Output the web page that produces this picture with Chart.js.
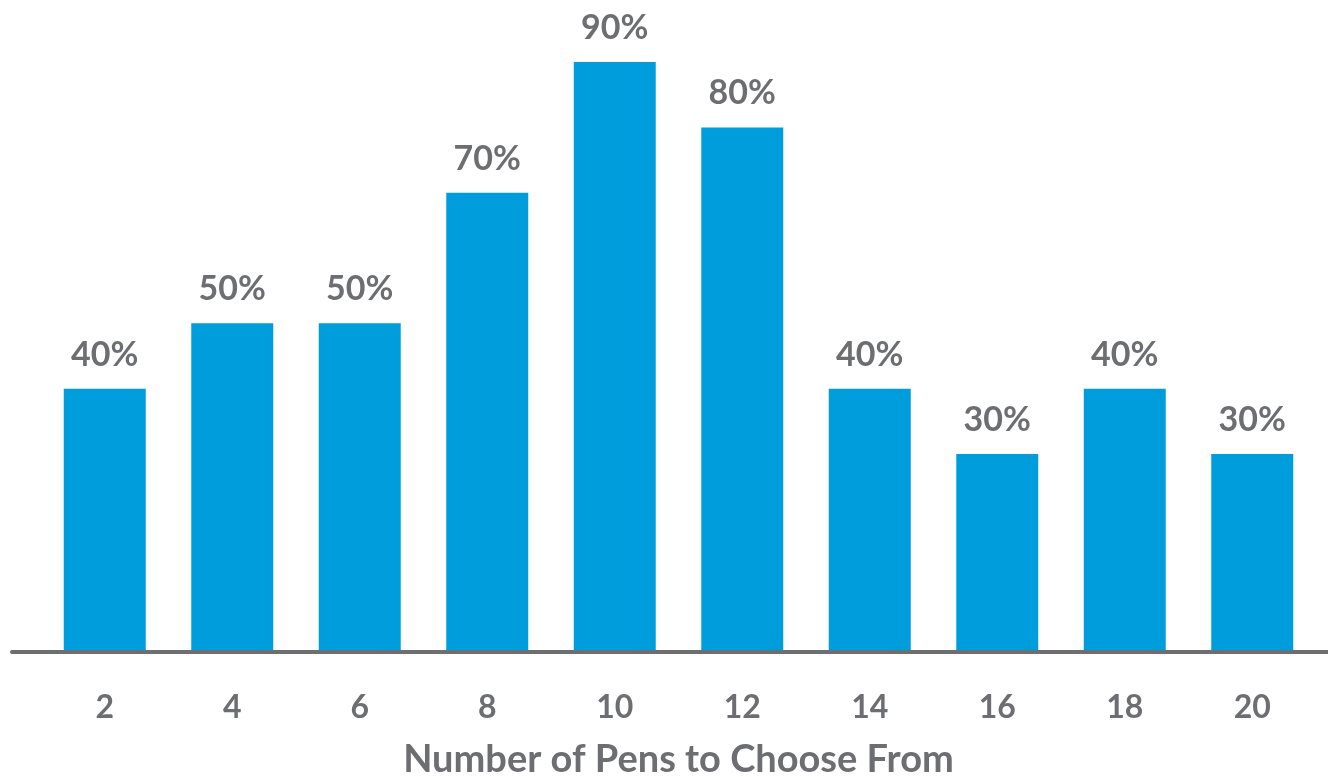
<!DOCTYPE html>
<html>
<head>
<meta charset="utf-8">
<script src="https://cdn.jsdelivr.net/npm/chart.js@4.4.0/dist/chart.umd.min.js"></script>
<style>
  html, body { margin: 0; padding: 0; background: #fff; }
  #wrap { width: 1328px; height: 777px; }
</style>
</head>
<body>
<div id="wrap"><canvas id="chart"></canvas></div>
<script>
// data
const penCounts = ['2', '4', '6', '8', '10', '12', '14', '16', '18', '20'];
const sharePct = [40, 50, 50, 70, 90, 80, 40, 30, 40, 30];
const axisTitle = 'Number of Pens to Choose From';

const BLUE = '#009ddc';
const GREY = '#6d6e71';
const FONT = 'Lato, "Open Sans", sans-serif';

// value labels above the bars
const valueLabels = {
  id: 'valueLabels',
  afterDatasetsDraw(chart) {
    const ctx = chart.ctx;
    const meta = chart.getDatasetMeta(0);
    ctx.save();
    ctx.font = 'bold 34px ' + FONT;
    ctx.fillStyle = GREY;
    ctx.textAlign = 'center';
    ctx.textBaseline = 'alphabetic';
    meta.data.forEach((bar, i) => {
      ctx.fillText(Math.round(sharePct[i]) + '%', bar.x, bar.y - 23);
    });
    ctx.restore();
  }
};

// baseline runs wider than the bars
const baseLine = {
  id: 'baseLine',
  afterDatasetsDraw(chart) {
    const ctx = chart.ctx;
    const y = chart.scales.y.getPixelForValue(0) + 2;
    ctx.save();
    ctx.strokeStyle = GREY;
    ctx.lineWidth = 4;
    ctx.lineCap = 'round';
    ctx.beginPath();
    ctx.moveTo(12, y);
    ctx.lineTo(chart.width + 4, y);
    ctx.stroke();
    ctx.restore();
  }
};

new Chart(document.getElementById('chart'), {
  type: 'bar',
  data: {
    labels: penCounts,
    datasets: [{
      data: sharePct,
      backgroundColor: BLUE,
      borderWidth: 0,
      barPercentage: 0.643,
      categoryPercentage: 1
    }]
  },
  options: {
    responsive: true,
    maintainAspectRatio: false,
    animation: false,
    layout: { padding: { left: 41, right: 12, top: 0, bottom: 0 } },
    plugins: { legend: { display: false }, tooltip: { enabled: false } },
    scales: {
      x: {
        grid: { display: false },
        border: { display: false },
        ticks: { color: GREY, font: { family: FONT, size: 32, weight: 'bold' }, padding: 30 },
        title: { display: true, text: axisTitle, color: GREY, font: { family: FONT, size: 38, weight: 'bold' }, padding: { top: 0, bottom: -6 } },
        afterFit(scale) { scale.height = 127; }
      },
      y: {
        display: false,
        min: 0,
        max: 99.5
      }
    }
  },
  plugins: [valueLabels, baseLine]
});
</script>
</body>
</html>
